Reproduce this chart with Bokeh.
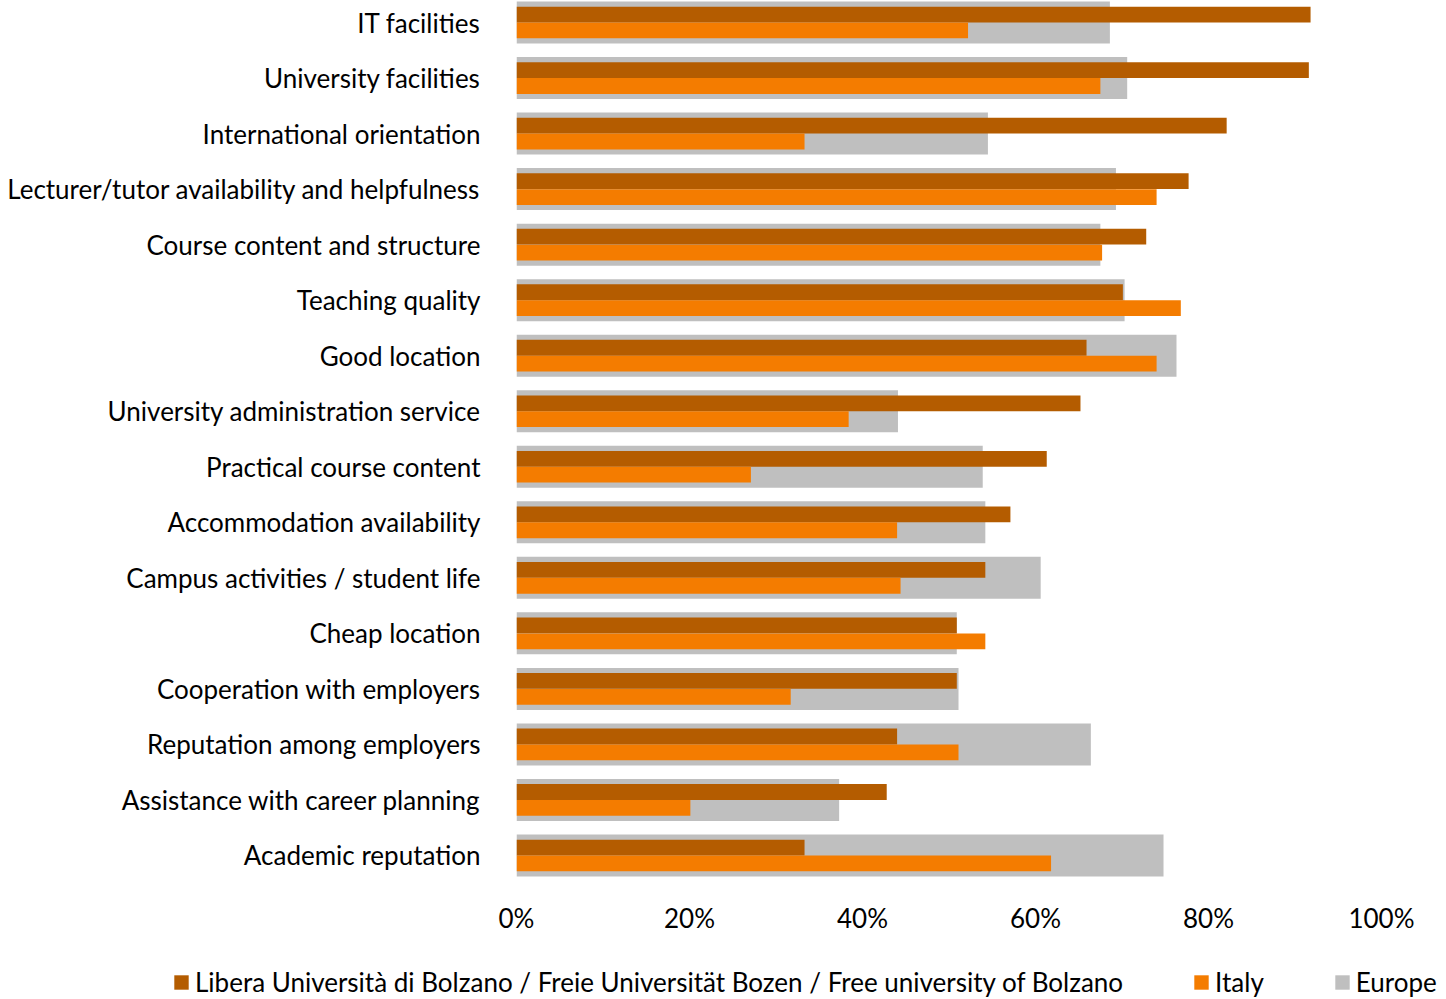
from bokeh.plotting import figure
from bokeh.models import FactorRange, Range1d, FixedTicker, PrintfTickFormatter, Legend, LegendItem, ColumnDataSource
from bokeh.transform import dodge
from bokeh.embed import file_html
from bokeh.resources import INLINE

categories = [
    "IT facilities",
    "University facilities",
    "International orientation",
    "Lecturer/tutor availability and helpfulness",
    "Course content and structure",
    "Teaching quality",
    "Good location",
    "University administration service",
    "Practical course content",
    "Accommodation availability",
    "Campus activities / student life",
    "Cheap location",
    "Cooperation with employers",
    "Reputation among employers",
    "Assistance with career planning",
    "Academic reputation",
]
bolzano = [91.8, 91.6, 82.1, 77.7, 72.8, 70.1, 65.9, 65.2, 61.3, 57.1, 54.2, 50.9, 50.9, 44.0, 42.8, 33.3]
italy = [52.2, 67.5, 33.3, 74.0, 67.7, 76.8, 74.0, 38.4, 27.1, 44.0, 44.4, 54.2, 31.7, 51.1, 20.1, 61.8]
europe = [68.6, 70.6, 54.5, 69.3, 67.5, 70.3, 76.3, 44.1, 53.9, 54.2, 60.6, 50.9, 51.1, 66.4, 37.3, 74.8]
x_ticks = [0, 20, 40, 60, 80, 100]
series_names = ["Libera Università di Bolzano / Freie Universität Bozen / Free university of Bolzano", "Italy", "Europe"]
series_colors = ["#B45C00", "#F47C00", "#BFBFBF"]

FONT = "Lato"
FS = "26px"

src = ColumnDataSource(dict(cat=categories, bolzano=bolzano, italy=italy, europe=europe))

p = figure(
    width=1446, height=945,
    y_range=FactorRange(factors=list(reversed(categories)), range_padding=-0.1035, range_padding_units="absolute"),
    x_range=Range1d(0, 100),
    output_backend="svg", toolbar_location=None, title=None,
    min_border_left=516, min_border_right=65, min_border_top=0, min_border_bottom=68,
)
p.outline_line_color = None
p.grid.grid_line_color = None
p.background_fill_color = None
p.border_fill_color = "white"

p.hbar(y=dodge("cat", 0, range=p.y_range), right="europe", left=0, height=0.756,
       source=src, fill_color=series_colors[2], line_color=None)
p.hbar(y=dodge("cat", 0.143, range=p.y_range), right="bolzano", left=0, height=0.285,
       source=src, fill_color=series_colors[0], line_color=None)
p.hbar(y=dodge("cat", -0.143, range=p.y_range), right="italy", left=0, height=0.285,
       source=src, fill_color=series_colors[1], line_color=None)

p.xaxis.ticker = FixedTicker(ticks=x_ticks)
p.xaxis.formatter = PrintfTickFormatter(format="%d%%")
p.xaxis.axis_line_color = None
p.xaxis.major_tick_line_color = None
p.xaxis.minor_tick_line_color = None
p.xaxis.major_tick_out = 0
p.xaxis.major_tick_in = 0
p.xaxis.major_label_standoff = 24
p.xaxis.major_label_text_font = FONT
p.xaxis.major_label_text_font_size = FS
p.xaxis.major_label_text_color = "black"

p.yaxis.axis_line_color = None
p.yaxis.major_tick_line_color = None
p.yaxis.minor_tick_line_color = None
p.yaxis.major_tick_out = 0
p.yaxis.major_tick_in = 0
p.yaxis.major_label_standoff = 36
p.yaxis.major_label_text_font = FONT
p.yaxis.major_label_text_font_size = FS
p.yaxis.major_label_text_color = "black"

# legend strip (separate root so that its frame is not aligned with the chart's frame)
lg = figure(width=1446, height=54, x_range=Range1d(0, 100), y_range=Range1d(0, 1),
            x_axis_type=None, y_axis_type=None, output_backend="svg", toolbar_location=None,
            min_border=0, min_border_left=0, min_border_right=0, min_border_top=0, min_border_bottom=0)
lg.outline_line_color = None
lg.grid.grid_line_color = None
items = []
for name, col, vals in zip(series_names, series_colors, [bolzano, italy, europe]):
    # swatch source: the series' first value, placed outside the strip's visible y range
    r = lg.hbar(y=[-5], right=[vals[0]], left=0, height=0.5, fill_color=col, line_color=None)
    items.append(LegendItem(label=name, renderers=[r]))
legend = Legend(
    items=items, orientation="horizontal", location=(172, 1),
    glyph_width=18, glyph_height=18, label_standoff=5, spacing=69,
    padding=0, margin=0, label_height=24,
    label_text_font=FONT, label_text_font_size=FS, label_text_color="black",
    border_line_color=None, background_fill_alpha=0,
)
lg.add_layout(legend, "center")

open("out.html", "w").write(file_html([p, lg], INLINE))
